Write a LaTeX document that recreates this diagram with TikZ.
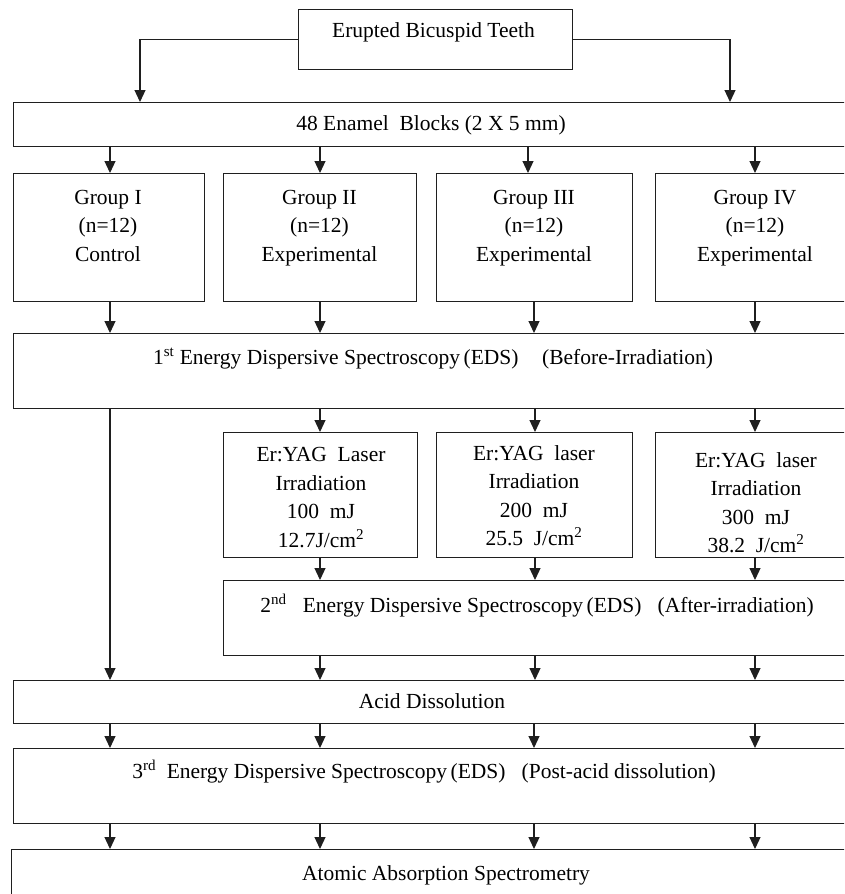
\documentclass[tikz,border=0pt]{standalone}
\usepackage{fontspec}
\setmainfont{Liberation Serif}
\usetikzlibrary{arrows.meta}
% centred lines whose baseline is that of the first line
\newcommand\stacklines[2][28.5pt]{\vtop{\baselineskip=#1\lineskiplimit=-100pt\halign{\hfil##\hfil\cr#2\crcr}}}
\begin{document}
\begin{tikzpicture}[x=1pt,y=-1pt,
  box/.style={draw=black!88, line width=1.2pt, rectangle, inner sep=0pt, anchor=north west},
  txt/.style={anchor=base, inner sep=0pt, font=\fontsize{21.5}{28.5}\selectfont},
  arr/.style={draw=black!88, line width=1.2pt, -{Triangle[width=11pt,length=12pt]}}]
\useasboundingbox (0,0) rectangle (844,894);
\fill[white] (0,0) rectangle (844,894);
\clip (0,0) rectangle (844,894);

% boxes
\node[box, minimum width=274pt, minimum height=60pt] (top) at (298,9) {};
\node[box, minimum width=839pt, minimum height=44pt] (enamel) at (13,102) {};
\node[box, minimum width=191pt, minimum height=128pt] (g1) at (13,173) {};
\node[box, minimum width=193pt, minimum height=128pt] (g2) at (223,173) {};
\node[box, minimum width=196pt, minimum height=128pt] (g3) at (436,173) {};
\node[box, minimum width=200pt, minimum height=128pt] (g4) at (655,173) {};
\node[box, minimum width=839pt, minimum height=75pt] (eds1) at (13,333) {};
\node[box, minimum width=194pt, minimum height=125pt] (l1) at (223,432) {};
\node[box, minimum width=196pt, minimum height=125pt] (l2) at (436,432) {};
\node[box, minimum width=200pt, minimum height=125pt] (l3) at (655,432) {};
\node[box, minimum width=629pt, minimum height=75pt] (eds2) at (223,580) {};
\node[box, minimum width=839pt, minimum height=43pt] (acid) at (13,680) {};
\node[box, minimum width=839pt, minimum height=75pt] (eds3) at (13,748) {};
\node[box, minimum width=869pt, minimum height=70pt] (aas) at (11,849) {};

% texts
\node[txt] (tTop) at (433.5,37.7) {Erupted Bicuspid Teeth};
\node[txt] (tEnamel) at (431,130) {48 Enamel\ \ Blocks (2 X 5 mm)};
\node[txt] (tG1) at (108,204) {\stacklines{Group I\cr (n=12)\cr Control}};
\node[txt] (tG2) at (319.5,204) {\stacklines{Group II\cr (n=12)\cr Experimental}};
\node[txt] (tG3) at (534,204) {\stacklines{Group III\cr (n=12)\cr Experimental}};
\node[txt] (tG4) at (755,204) {\stacklines{Group IV\cr (n=12)\cr Experimental}};
\node[txt] (tEds1) at (433,364) {1\textsuperscript{st} Energy Dispersive Spectroscopy\,(EDS)\hspace{1.1em}(Before-Irradiation)};
\node[txt] (tL1) at (321,461.7) {\stacklines{Er:YAG\ \ Laser\cr Irradiation\cr 100\ \ mJ\cr 12.7J/cm\textsuperscript{2}}};
\node[txt] (tL2) at (534,460) {\stacklines{Er:YAG\ \ laser\cr Irradiation\cr 200\ \ mJ\cr 25.5\ \ J/cm\textsuperscript{2}}};
\node[txt] (tL3) at (756,467) {\stacklines{Er:YAG\ \ laser\cr Irradiation\cr 300\ \ mJ\cr 38.2\ \ J/cm\textsuperscript{2}}};
\node[txt] (tEds2) at (537,612) {2\textsuperscript{nd}\hspace{0.75em}Energy Dispersive Spectroscopy\,(EDS)\hspace{0.75em}(After-irradiation)};
\node[txt] (tAcid) at (432,708) {Acid Dissolution};
\node[txt] (tEds3) at (424,778) {3\textsuperscript{rd}\ \ Energy Dispersive Spectroscopy\,(EDS)\ \ \ (Post-acid dissolution)};
\node[txt] (tAas) at (446,880) {Atomic Absorption Spectrometry};

% connectors
\draw[arr] (top.west) -| (140,0 |- enamel.north);
\draw[arr] (top.east) -| (730,0 |- enamel.north);
\foreach \x/\g in {110/g1,320/g2,528/g3,755/g4}
  \draw[arr] (\x,0 |- enamel.south) -- (\x,0 |- \g.north);
\foreach \x/\g in {110/g1,320/g2,534/g3,755/g4}
  \draw[arr] (\x,0 |- \g.south) -- (\x,0 |- eds1.north);
\draw[arr] (110,0 |- eds1.south) -- (110,0 |- acid.north);
\foreach \x/\l in {320/l1,535/l2,755/l3}
  \draw[arr] (\x,0 |- eds1.south) -- (\x,0 |- \l.north);
\foreach \x/\l in {320/l1,535/l2,755/l3}
  \draw[arr] (\x,0 |- \l.south) -- (\x,0 |- eds2.north);
\foreach \x in {320,535,755}
  \draw[arr] (\x,0 |- eds2.south) -- (\x,0 |- acid.north);
\foreach \x in {110,320,534,755}
  \draw[arr] (\x,0 |- acid.south) -- (\x,0 |- eds3.north);
\foreach \x in {110,320,534,755}
  \draw[arr] (\x,0 |- eds3.south) -- (\x,0 |- aas.north);
\end{tikzpicture}
\end{document}
